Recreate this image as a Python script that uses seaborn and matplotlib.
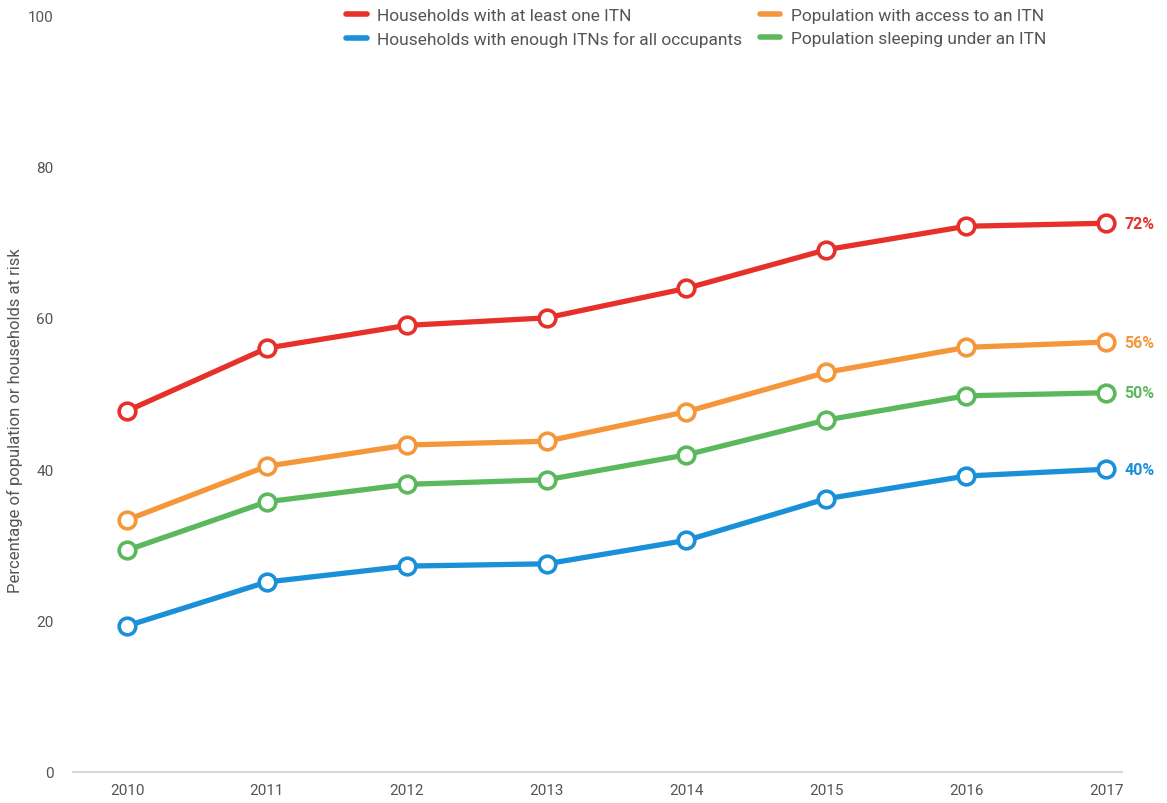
import pandas as pd
import seaborn as sns
import matplotlib.pyplot as plt

years = [2010, 2011, 2012, 2013, 2014, 2015, 2016, 2017]
at_least_one = [47.7, 56.0, 59.0, 60.0, 63.9, 69.0, 72.1, 72.5]
access = [33.3, 40.4, 43.2, 43.7, 47.6, 52.8, 56.1, 56.8]
sleeping = [29.3, 35.7, 38.0, 38.6, 41.9, 46.5, 49.7, 50.1]
enough = [19.3, 25.1, 27.2, 27.5, 30.6, 36.1, 39.1, 40.0]

series_names = ['Households with at least one ITN',
                'Households with enough ITNs for all occupants',
                'Population with access to an ITN',
                'Population sleeping under an ITN']
series_values = [at_least_one, enough, access, sleeping]
end_labels = ['72%', '40%', '56%', '50%']
colors = ['#e8302a', '#1a90d9', '#f5963a', '#5cb85c']

rows = []
for name, vals in zip(series_names, series_values):
  for y, v in zip(years, vals):
    rows.append({'year': y, 'value': v, 'series': name})
df = pd.DataFrame(rows)

sns.set_style('white')
plt.rcParams['font.family'] = ['Roboto', 'DejaVu Sans']
text_color = '#555555'

fig = plt.figure(figsize=(11.67, 8.04), dpi=100)
ax = fig.add_axes([0.0626, 0.0386, 0.8988, 0.9414])

sns.lineplot(data=df, x='year', y='value', hue='series', hue_order=series_names,
             palette=colors, linewidth=3.8, marker='o', markersize=12,
             legend=False, ax=ax)
# open circle markers with the series colour as edge
for line in ax.lines:
  line.set_markerfacecolor('white')
  line.set_markeredgecolor(line.get_color())
  line.set_markeredgewidth(2.6)

for name, vals, lab, c in zip(series_names, series_values, end_labels, colors):
  ax.text(years[-1] + 0.13, vals[-1], lab, color=c, fontsize=11.5, fontweight='bold',
          va='center', ha='left', clip_on=False)

ax.set_xlim(2009.614, 2017.114)
ax.set_ylim(0, 100)
ax.set_xticks(years)
ax.set_yticks([0, 20, 40, 60, 80, 100])
ax.tick_params(axis='both', length=0, labelsize=11, labelcolor=text_color)
ax.tick_params(axis='x', pad=8)
ax.tick_params(axis='y', pad=14)
for s in ['top', 'right', 'left']:
  ax.spines[s].set_visible(False)
ax.spines['bottom'].set_color('#d3d8da')
ax.spines['bottom'].set_linewidth(1.5)
ax.set_xlabel('')
ax.set_ylabel('Percentage of population or households at risk', fontsize=12, color=text_color)
ax.yaxis.set_label_coords(-0.048, 0.465)

handles = [plt.Line2D([], [], color=c, linewidth=4) for c in colors]
fig.legend(handles, series_names, ncol=2, loc='upper left', bbox_to_anchor=(0.283, 1.008),
           frameon=False, fontsize=12.5, labelcolor=text_color, handlelength=1.2,
           handletextpad=0.6, columnspacing=1.0, labelspacing=0.45)

plt.savefig('out.png', dpi=100)
